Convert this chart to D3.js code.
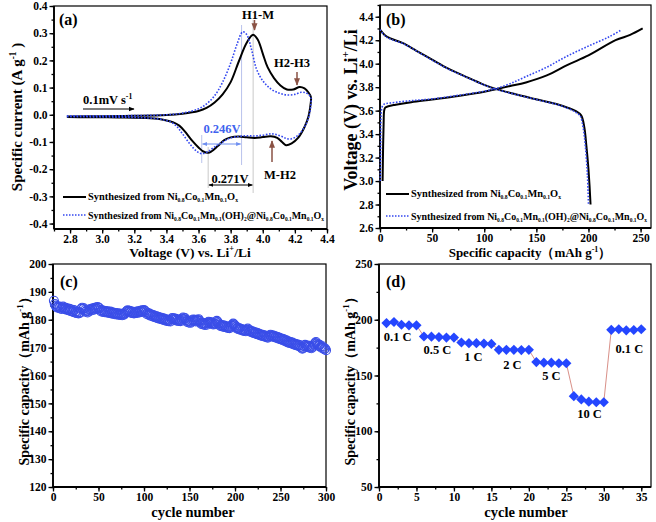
<!DOCTYPE html>
<html><head><meta charset="utf-8">
<script src="https://cdn.jsdelivr.net/npm/d3@7"></script>
<style>body{margin:0;background:#fff}svg{display:block}</style>
</head><body><svg id="c" width="656" height="522"></svg>
<script>
// ---------------- DATA ----------------
// (a) cyclic voltammetry [V, I]
const cvBlack = [[2.78,-0.006],[3.0,-0.005],[3.2,-0.004],[3.4,-0.001],[3.5,0.004],[3.6,0.014],[3.65,0.025],[3.7,0.045],[3.75,0.075],[3.8,0.12],[3.85,0.195],[3.9,0.265],[3.94,0.294],[3.97,0.275],[4.0,0.225],[4.03,0.175],[4.07,0.135],[4.11,0.108],[4.15,0.093],[4.19,0.093],[4.23,0.102],[4.26,0.097],[4.285,0.082],[4.3,0.065],
 [4.298,0.04],[4.285,-0.005],[4.26,-0.045],[4.22,-0.085],[4.18,-0.105],[4.145,-0.112],[4.12,-0.1],[4.09,-0.085],[4.05,-0.079],[4.0,-0.082],[3.95,-0.085],[3.9,-0.083],[3.85,-0.08],[3.8,-0.083],[3.76,-0.093],[3.72,-0.115],[3.68,-0.135],[3.66,-0.14],[3.63,-0.135],[3.6,-0.12],[3.56,-0.095],[3.52,-0.065],[3.48,-0.04],[3.44,-0.027],[3.38,-0.018],[3.3,-0.013],[3.1,-0.01],[2.9,-0.009],[2.78,-0.008]];
const cvBlue = [[2.78,-0.004],[3.0,-0.004],[3.2,-0.003],[3.4,0.0],[3.5,0.006],[3.6,0.022],[3.65,0.04],[3.7,0.07],[3.75,0.12],[3.8,0.19],[3.84,0.26],[3.875,0.305],[3.9,0.295],[3.93,0.24],[3.96,0.17],[4.0,0.125],[4.05,0.095],[4.1,0.08],[4.15,0.073],[4.2,0.075],[4.24,0.083],[4.27,0.08],[4.29,0.072],[4.3,0.062],
 [4.298,0.03],[4.285,-0.01],[4.26,-0.045],[4.22,-0.075],[4.18,-0.088],[4.15,-0.088],[4.12,-0.08],[4.08,-0.072],[4.05,-0.07],[4.0,-0.075],[3.95,-0.078],[3.9,-0.077],[3.85,-0.08],[3.8,-0.085],[3.75,-0.1],[3.7,-0.118],[3.66,-0.135],[3.62,-0.143],[3.59,-0.135],[3.55,-0.11],[3.5,-0.07],[3.46,-0.04],[3.42,-0.025],[3.35,-0.015],[3.2,-0.01],[3.0,-0.008],[2.78,-0.007]];
// (b) charge / discharge [capacity, V]
const chgBlack = [[2.5,3.0],[3,3.3],[3.5,3.5],[4,3.6],[5,3.625],[8,3.637],[15,3.65],[30,3.672],[50,3.695],[75,3.725],[100,3.76],[112,3.785],[125,3.81],[140,3.84],[160,3.9],[180,3.99],[200,4.07],[226,4.2],[240,4.245],[252,4.3]];
const chgBlue = [[0.3,3.0],[0.6,3.3],[1,3.55],[2,3.63],[4,3.655],[10,3.665],[30,3.685],[50,3.7],[75,3.73],[100,3.765],[112,3.79],[125,3.83],[140,3.89],[160,3.97],[178.5,4.06],[200,4.15],[220,4.23],[232,4.29]];
const disBlack = [[0,4.29],[5,4.24],[10,4.215],[22,4.175],[35,4.11],[50,4.035],[65,3.96],[82,3.89],[100,3.82],[111,3.785],[130,3.74],[153,3.69],[170,3.655],[180,3.625],[188,3.595],[193,3.56],[196,3.46],[198,3.3],[200,3.1],[202,2.8]];
const disBlue = [[0,4.29],[5,4.235],[10,4.21],[22,4.172],[35,4.108],[50,4.03],[65,3.957],[82,3.888],[100,3.818],[111,3.783],[130,3.738],[153,3.688],[170,3.652],[180,3.62],[187,3.59],[192,3.555],[195,3.45],[197,3.3],[199,3.05],[200,2.8]];
// (c) cycling capacity, cycles 1..300
const cycCap = [
186.8,185.6,185.0,184.6,184.3,184.8,184.2,184.5,183.9,184.4,
184.7,184.1,183.8,184.3,183.6,184.0,183.4,183.9,183.2,183.7,
183.1,182.8,183.5,182.6,183.0,182.4,182.9,182.3,182.7,182.5,
183.9,184.3,183.8,184.1,183.4,182.9,183.2,182.6,183.0,183.5,
183.8,183.3,184.0,183.6,184.2,183.7,184.4,183.9,184.6,184.3,
184.1,183.5,183.0,183.4,182.8,183.2,182.7,183.1,182.6,183.0,
182.8,182.4,182.9,182.3,182.7,182.2,182.5,182.0,182.4,181.9,
182.3,181.8,182.2,181.7,182.1,181.6,182.0,181.8,182.3,182.7,
183.1,183.4,182.9,183.2,182.6,183.0,182.4,182.8,182.3,182.7,
182.4,182.9,182.5,183.0,182.6,183.2,182.8,183.4,183.0,183.5,
183.2,182.7,182.1,182.5,181.8,182.2,181.5,181.9,181.3,181.7,
181.0,181.4,180.8,181.2,180.6,181.0,180.4,180.8,180.2,180.6,
180.0,180.4,179.8,180.2,179.6,180.0,179.5,179.9,179.4,180.2,
180.6,180.1,180.5,179.9,180.3,179.7,180.1,179.6,180.0,179.5,
179.9,180.4,180.8,180.2,180.6,179.9,179.3,179.7,179.0,179.4,
178.9,179.3,179.8,180.1,179.6,180.0,179.4,179.8,179.9,180.2,
179.6,179.0,178.5,178.9,178.3,178.7,178.1,178.6,178.2,178.9,
179.3,178.8,179.2,178.6,178.9,178.3,178.7,178.4,179.1,179.6,
179.2,178.7,178.2,177.8,178.1,177.6,178.0,177.4,177.8,177.3,
177.6,177.1,177.5,177.0,177.4,177.8,178.2,178.6,178.3,177.9,
177.4,176.9,177.2,176.6,176.9,176.4,176.7,176.2,176.5,176.0,
176.3,175.9,176.4,176.8,176.3,175.8,176.1,175.6,175.9,175.3,
175.6,175.1,175.4,174.9,175.2,174.6,174.9,174.4,174.7,174.2,
174.5,174.0,174.3,173.8,174.1,173.6,173.9,174.3,174.6,174.1,
174.4,173.9,174.2,173.7,174.0,173.5,173.8,173.2,173.5,173.0,
173.3,172.8,173.1,172.5,172.8,172.2,172.5,171.9,172.2,171.7,
172.0,171.5,171.8,171.2,171.5,171.0,171.3,170.8,171.1,170.6,
170.9,170.3,170.0,169.6,169.9,170.5,171.0,170.6,170.2,170.7,
170.3,170.0,170.4,169.8,170.2,170.7,171.2,171.6,172.0,171.5,
171.1,170.6,171.0,170.4,170.0,170.5,169.9,169.4,169.7,169.1];
// (d) rate capability, cycles 1..35
const rateCap = [197,198,195.5,195,195, 185,184.8,184.5,184,184, 179.6,179,179,178.6,178.3, 173,173,173,172.8,173, 162,161.5,161.5,161,161, 131.5,128.5,126.5,126,126, 191,191.5,190.5,190.8,191.5];
// rate label: [text, cycle position, capacity position]
const rateLabels = [["0.1 C",2.5,185.4],["0.5 C",7.8,172.9],["1 C",12.6,166.9],["2 C",17.8,160.3],["5 C",23.0,150.4],["10 C",28.1,116.1],["0.1 C",33.4,174.4]];
// tick values
const aXTicks=[2.8,3.0,3.2,3.4,3.6,3.8,4.0,4.2,4.4], aYTicks=[-0.4,-0.3,-0.2,-0.1,0.0,0.1,0.2,0.3,0.4];
const bXTicks=[0,50,100,150,200,250], bYTicks=[2.6,2.8,3.0,3.2,3.4,3.6,3.8,4.0,4.2,4.4];
const cXTicks=[0,50,100,150,200,250,300], cYTicks=[120,130,140,150,160,170,180,190,200];
const dXTicks=[0,5,10,15,20,25,30,35], dYTicks=[50,100,150,200,250];

// ---------------- DRAW ----------------
const svg = d3.select('#c');
svg.append('rect').attr('width',656).attr('height',522).attr('fill','#fff');
const FONT = '"Liberation Serif","Times New Roman",serif';
const BLUE = '#3347f0';

const defs = svg.append('defs');
function marker(id,color){
  defs.append('marker').attr('id',id).attr('viewBox','0 0 10 10').attr('refX',9).attr('refY',5)
   .attr('markerWidth',5).attr('markerHeight',5).attr('orient','auto-start-reverse')
   .append('path').attr('d','M0,1 L10,5 L0,9 z').attr('fill',color);
}
marker('arK','#000'); marker('arBr','#8a5244'); marker('arBl','#6f8ff0');

function rich(g, parts, x, y, size, opts={}){
  const subR = opts.subR || 0.62;
  const subD = opts.subD || 0.3;
  const t = g.append('text').attr('x',x).attr('y',y).attr('font-family',FONT).attr('font-weight','bold')
    .attr('font-size',size).attr('fill',opts.fill||'#000').attr('text-anchor',opts.anchor||'start');
  if(opts.transform) t.attr('transform',opts.transform);
  if(opts.len) t.attr('textLength',opts.len).attr('lengthAdjust','spacingAndGlyphs');
  let cur=0;
  parts.forEach(p=>{
    const [s,m] = Array.isArray(p)?p:[p,'n'];
    const want = m==='sub'? size*subD : m==='sup'? -size*0.42 : 0;
    t.append('tspan').attr('dy',want-cur).attr('font-size', m==='n'?size:size*subR).text(s);
    cur=want;
  });
  return t;
}

function panel(box, xd, yd, xt, xm, yt, ym, xf, yf){
  const x = d3.scaleLinear().domain(xd).range([box.x0, box.x1]);
  const y = d3.scaleLinear().domain(yd).range([box.y1, box.y0]);
  const style = g=>{ g.select('.domain').remove();
    g.selectAll('text').attr('font-family',FONT).attr('font-weight','bold').attr('font-size',11.5).attr('fill','#000');
    g.selectAll('line').attr('stroke','#000').attr('stroke-width',1.3); };
  svg.append('g').attr('transform',`translate(0,${box.y1})`).call(d3.axisBottom(x).tickValues(xm).tickSize(2.5).tickFormat('')).call(style);
  svg.append('g').attr('transform',`translate(0,${box.y1})`).call(d3.axisBottom(x).tickValues(xt).tickSize(4.5).tickPadding(1.5).tickFormat(xf)).call(style);
  svg.append('g').attr('transform',`translate(${box.x0},0)`).call(d3.axisLeft(y).tickValues(ym).tickSize(2.5).tickFormat('')).call(style);
  svg.append('g').attr('transform',`translate(${box.x0},0)`).call(d3.axisLeft(y).tickValues(yt).tickSize(4.5).tickPadding(2).tickFormat(yf)).call(style);
  svg.append('rect').attr('x',box.x0).attr('y',box.y0).attr('width',box.x1-box.x0).attr('height',box.y1-box.y0)
    .attr('fill','none').attr('stroke','#000').attr('stroke-width',1.2);
  svg.append('line').attr('x1',box.x0).attr('x2',box.x1).attr('y1',box.y1).attr('y2',box.y1).attr('stroke','#000').attr('stroke-width',1.8);
  svg.append('line').attr('x1',box.x0).attr('x2',box.x0).attr('y1',box.y0).attr('y2',box.y1).attr('stroke','#000').attr('stroke-width',1.8);
  return {x,y};
}
const f1 = d=>d.toFixed(1), f0 = d=>String(d);

// ---- (a) ----
const A = panel({x0:54,x1:327,y0:6,y1:229},[2.7,4.4],[-0.42,0.4],aXTicks,d3.range(2.7,4.41,0.1),aYTicks,d3.range(-0.4,0.41,0.05),f1,f1);
// guide lines
const guides=[[3.62,135,163,'#b9c3ec'],[3.868,25,165,'#b9c3ec'],[3.66,147,188,'#c9c9c9'],[3.94,20,193,'#c9c9c9']];
guides.forEach(g=>svg.append('line').attr('x1',A.x(g[0])).attr('x2',A.x(g[0])).attr('y1',g[1]).attr('y2',g[2]).attr('stroke',g[3]).attr('stroke-width',1));
const lineA = d3.line().x(d=>A.x(d[0])).y(d=>A.y(d[1])).curve(d3.curveCatmullRom.alpha(0.5));
svg.append('path').attr('d',lineA(cvBlack)).attr('fill','none').attr('stroke','#000').attr('stroke-width',2);
svg.append('path').attr('d',lineA(cvBlue)).attr('fill','none').attr('stroke',BLUE).attr('stroke-width',1.6).attr('stroke-dasharray','1.6,1.6');
// measurement arrows
svg.append('line').attr('x1',A.x(3.625)).attr('x2',A.x(3.862)).attr('y1',144).attr('y2',144).attr('stroke','#6f8ff0').attr('stroke-width',1)
  .attr('marker-start','url(#arBl)').attr('marker-end','url(#arBl)');
rich(svg,['0.246V'],222,133,12.5,{anchor:'middle',fill:'#3f63ee'});
svg.append('line').attr('x1',A.x(3.665)).attr('x2',A.x(3.935)).attr('y1',185).attr('y2',185).attr('stroke','#000').attr('stroke-width',1)
  .attr('marker-start','url(#arK)').attr('marker-end','url(#arK)');
rich(svg,['0.271V'],230,183,12.5,{anchor:'middle'});
// peak labels
rich(svg,['H1-M'],258,19,12.5,{anchor:'middle'});
svg.append('line').attr('x1',254.5).attr('x2',254.5).attr('y1',20).attr('y2',30).attr('stroke','#8a5244').attr('stroke-width',1.5).attr('marker-end','url(#arBr)');
rich(svg,['H2-H3'],292,67,12.5,{anchor:'middle'});
svg.append('line').attr('x1',297).attr('x2',297).attr('y1',72).attr('y2',85).attr('stroke','#8a5244').attr('stroke-width',1.5).attr('marker-end','url(#arBr)');
rich(svg,['M-H2'],280,179,12.5,{anchor:'middle'});
svg.append('line').attr('x1',272).attr('x2',272).attr('y1',162).attr('y2',141).attr('stroke','#8a5244').attr('stroke-width',1.5).attr('marker-end','url(#arBr)');
rich(svg,['0.1mV s',['-1','sup']],83,104,12.5);
svg.append('line').attr('x1',83).attr('x2',134).attr('y1',109).attr('y2',109).attr('stroke','#000').attr('stroke-width',1.2).attr('marker-end','url(#arK)');
rich(svg,['(a)'],59,25,16);
// legend
function legend(x,y1,y2){
  svg.append('line').attr('x1',x).attr('x2',x+23).attr('y1',y1).attr('y2',y1).attr('stroke','#000').attr('stroke-width',2);
  svg.append('line').attr('x1',x).attr('x2',x+23).attr('y1',y2).attr('y2',y2).attr('stroke',BLUE).attr('stroke-width',1.5).attr('stroke-dasharray','1.5,1.5');
  rich(svg,['Synthesized from Ni',['0.8','sub'],'Co',['0.1','sub'],'Mn',['0.1','sub'],'O',['x','sub']],x+25,y1+3,10.5,{subR:0.55,subD:0.22,len:150});
  rich(svg,['Synthesized from Ni',['0.8','sub'],'Co',['0.1','sub'],'Mn',['0.1','sub'],'(OH)',['2','sub'],'@Ni',['0.8','sub'],'Co',['0.1','sub'],'Mn',['0.1','sub'],'O',['x','sub']],x+25,y2+3.5,10.5,{subR:0.55,subD:0.22,len:236});
}
legend(63,197,215);
rich(svg,['Voltage (V) vs. Li',['+','sup'],'/Li'],190,257,13.5,{anchor:'middle'});
rich(svg,['Specific current (A g',['-1','sup'],' )'],0,0,15,{anchor:'middle',transform:'translate(22,117) rotate(-90)'});

// ---- (b) ----
const B = panel({x0:380,x1:651,y0:5,y1:228},[0,260],[2.6,4.5],bXTicks,d3.range(0,261,25),bYTicks,d3.range(2.6,4.51,0.1),f0,f1);
[[chgBlack,'#000',2,null],[disBlack,'#000',2,null],[chgBlue,BLUE,1.6,'1.6,1.6'],[disBlue,BLUE,1.6,'1.6,1.6']].forEach(s=>{
  const p = svg.append('path').attr('d',d3.line().x(d=>B.x(d[0])).y(d=>B.y(d[1])).curve(d3.curveCatmullRom.alpha(0.5))(s[0]))
    .attr('fill','none').attr('stroke',s[1]).attr('stroke-width',s[2]);
  if(s[3]) p.attr('stroke-dasharray',s[3]);
});
rich(svg,['(b)'],386,25,16);
legend(386,194,216);
rich(svg,['Specific capacity（mAh g',['-1','sup'],'）'],530,257,13,{anchor:'middle'});
rich(svg,['Voltage (V) vs. Li',['+','sup'],'/Li'],0,0,18,{anchor:'middle',transform:'translate(357,110) rotate(-90)'});

// ---- (c) ----
const C = panel({x0:53,x1:326,y0:264,y1:487},[0,300],[120,200],cXTicks,d3.range(0,301,25),cYTicks,d3.range(120,201,5),f0,f0);
svg.append('g').selectAll('circle').data(cycCap).join('circle')
  .attr('cx',(d,i)=>C.x(i+1)).attr('cy',d=>C.y(d)).attr('r',4.5)
  .attr('fill','none').attr('stroke','#3a4ee8').attr('stroke-width',1.1);
rich(svg,['(c)'],60,287,16);
rich(svg,['cycle number'],193,517,14.5,{anchor:'middle'});
rich(svg,['Specific capacity（mAh g',['-1','sup'],'）'],0,0,14,{anchor:'middle',transform:'translate(29,378) rotate(-90)'});

// ---- (d) ----
const D = panel({x0:379,x1:651,y0:264,y1:487},[0,36.3],[50,250],dXTicks,d3.range(0,36.3,2.5),dYTicks,d3.range(50,251,25),f0,f0);
svg.append('path').attr('d',d3.line().x((d,i)=>D.x(i+1)).y(d=>D.y(d))(rateCap))
  .attr('fill','none').attr('stroke','#d99088').attr('stroke-width',1);
svg.append('g').selectAll('path').data(rateCap).join('path')
  .attr('d',d3.symbol(d3.symbolSquare,52)())
  .attr('transform',(d,i)=>`translate(${D.x(i+1)},${D.y(d)}) rotate(45)`)
  .attr('fill','#2446ff');
rateLabels.forEach(l=>rich(svg,[l[0]],D.x(l[1]),D.y(l[2])+4.5,12.5,{anchor:'middle'}));
rich(svg,['(d)'],386,287,16);
rich(svg,['cycle number'],526,517,14.5,{anchor:'middle'});
rich(svg,['Specific capacity（mAh g',['-1','sup'],'）'],0,0,14,{anchor:'middle',transform:'translate(355,378) rotate(-90)'});
</script></body></html>
